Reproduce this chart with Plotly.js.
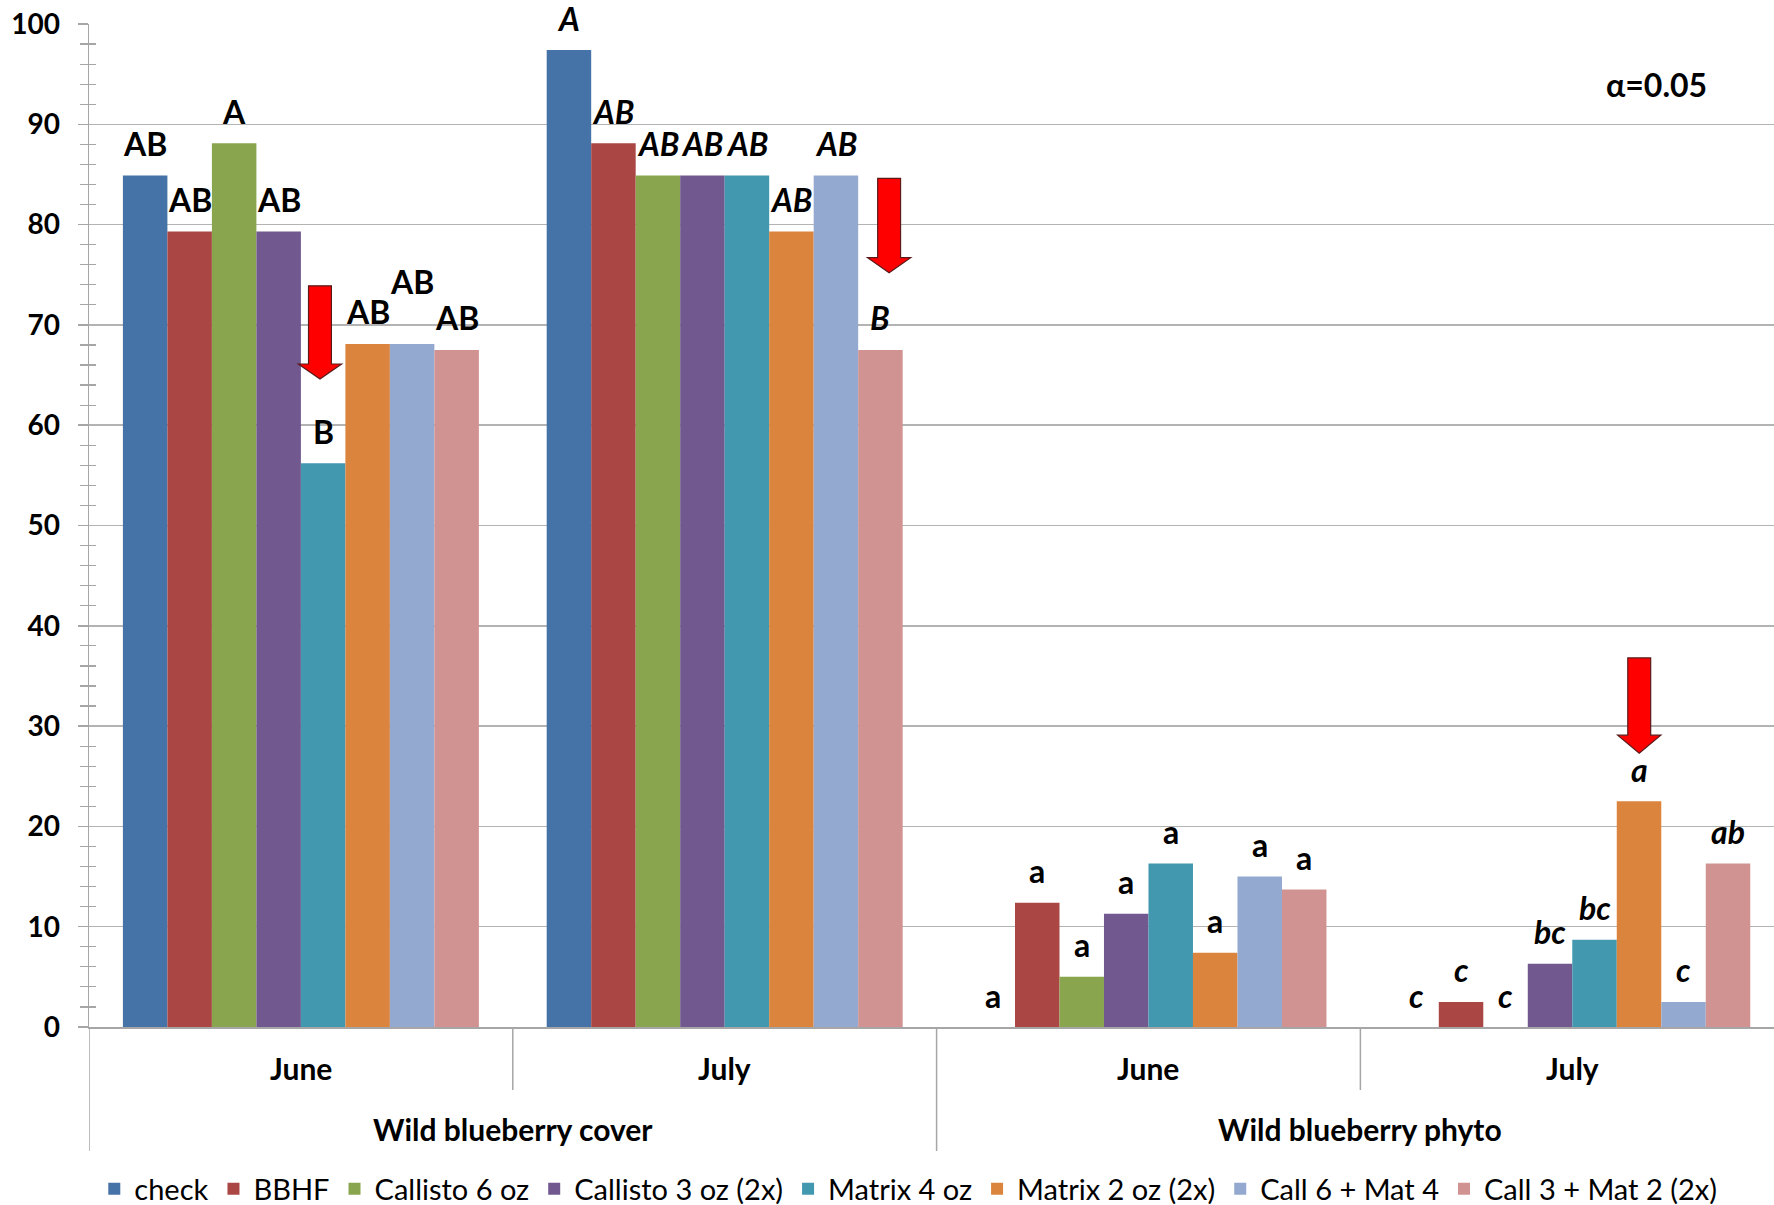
<!DOCTYPE html>
<html><head><meta charset="utf-8">
<script src="https://cdn.plot.ly/plotly-3.0.1.min.js"></script>
<style>html,body{margin:0;padding:0;background:#fff}#chart{width:1774px;height:1205px}</style>
</head><body><div id="chart"></div>
<script>
// ---- data ----
const months = ['June', 'July', 'June', 'July'];
const measures = ['Wild blueberry cover', 'Wild blueberry phyto'];
const treatments = ['check', 'BBHF', 'Callisto 6 oz', 'Callisto 3 oz (2x)', 'Matrix 4 oz', 'Matrix 2 oz (2x)', 'Call 6 + Mat 4', 'Call 3 + Mat 2 (2x)'];

const checkVals     = [84.9, 97.4, 0.0, 0.0];
const bbhfVals      = [79.3, 88.1, 12.4, 2.5];
const callisto6Vals = [88.1, 84.9, 5.0, 0.0];
const callisto3Vals = [79.3, 84.9, 11.3, 6.3];
const matrix4Vals   = [56.2, 84.9, 16.3, 8.7];
const matrix2Vals   = [68.1, 79.3, 7.4, 22.5];
const call6mat4Vals = [68.1, 84.9, 15.0, 2.5];
const call3mat2Vals = [67.5, 67.5, 13.7, 16.3];

const checkLetters     = ['AB', 'A', 'a', 'c'];
const bbhfLetters      = ['AB', 'AB', 'a', 'c'];
const callisto6Letters = ['A', 'AB', 'a', 'c'];
const callisto3Letters = ['AB', 'AB', 'a', 'bc'];
const matrix4Letters   = ['B', 'AB', 'a', 'bc'];
const matrix2Letters   = ['AB', 'AB', 'a', 'a'];
const call6mat4Letters = ['AB', 'AB', 'a', 'c'];
const call3mat2Letters = ['AB', 'B', 'a', 'ab'];

const alphaText = 'α=0.05';

// ---- style ----
const colors = ['#4572A7', '#AA4643', '#89A54E', '#71588F', '#4198AF', '#DB843D', '#93A9CF', '#D19392'];
const FONT = 'Lato, "Open Sans", sans-serif';
const GAP = 0.16;
const AXIS_GRAY = '#a6a6a6';

const seriesVals = [checkVals, bbhfVals, callisto6Vals, callisto3Vals, matrix4Vals, matrix2Vals, call6mat4Vals, call3mat2Vals];
const seriesLetters = [checkLetters, bbhfLetters, callisto6Letters, callisto3Letters, matrix4Letters, matrix2Letters, call6mat4Letters, call3mat2Letters];
const catPos = months.map((m, i) => i);

const traces = treatments.map((name, t) => ({
  type: 'bar', name: name, x: catPos, y: seriesVals[t],
  marker: {color: colors[t], line: {width: 0}}, hoverinfo: 'skip'
}));
traces.push({type: 'scatter', x: [null], y: [null], yaxis: 'y2', showlegend: false, hoverinfo: 'skip'});

const nS = treatments.length;
const bw = (1 - GAP) / nS;
const annotations = [];
// letter labels over bars
const liftPx = {'0-6': 30}; // staggered label (category-series)
seriesVals.forEach((vals, t) => {
  vals.forEach((v, c) => {
    const italic = months[c] === 'July';
    const txt = italic ? '<b><i>' + seriesLetters[t][c] + '</i></b>' : '<b>' + seriesLetters[t][c] + '</b>';
    annotations.push({
      x: c - (1 - GAP) / 2 + (t + 0.5) * bw, y: v, xref: 'x', yref: 'y',
      text: txt, showarrow: false, xanchor: 'center', yanchor: 'middle',
      yshift: 32 + (liftPx[c + '-' + t] || 0),
      font: {family: FONT, size: 32, color: '#000'}
    });
  });
});
// month labels
months.forEach((m, i) => annotations.push({
  x: i, y: 0, xref: 'x', yref: 'paper', yanchor: 'middle', yshift: -41,
  text: '<b>' + m + '</b>', showarrow: false, font: {family: FONT, size: 30, color: '#000'}
}));
// measure labels
measures.forEach((m, j) => annotations.push({
  x: 2 * j + 0.5, y: 0, xref: 'x', yref: 'paper', yanchor: 'middle', yshift: -102,
  text: '<b>' + m + '</b>', showarrow: false, font: {family: FONT, size: 30, color: '#000'}
}));
annotations.push({
  x: 0.93, y: 0.94, xref: 'paper', yref: 'paper', xanchor: 'center', yanchor: 'middle',
  text: '<b>' + alphaText + '</b>', showarrow: false, font: {family: FONT, size: 32, color: '#000'}
});

// dividers under the category axis
const shapes = [];
[-0.5, 1.5, 3.5].forEach(x => shapes.push({type: 'line', xref: 'x', yref: 'paper', x0: x, x1: x, y0: 0, y1: -0.1236, line: {color: AXIS_GRAY, width: 1.5}}));
[0.5, 2.5].forEach(x => shapes.push({type: 'line', xref: 'x', yref: 'paper', x0: x, x1: x, y0: 0, y1: -0.0628, line: {color: AXIS_GRAY, width: 1.5}}));

// red block arrows (decoration): [centerX, topY, headY, tipY]
const arrows = [[0.045, 73.9, 66.1, 64.6], [1.388, 84.6, 76.7, 75.2], [3.158, 36.8, 29.1, 27.3]];
const sw = 0.027, hw = 0.051;
arrows.forEach(([cx, top, hy, tip]) => {
  const p = `M${cx - sw},${top} L${cx + sw},${top} L${cx + sw},${hy} L${cx + hw},${hy} L${cx},${tip} L${cx - hw},${hy} L${cx - sw},${hy} Z`;
  shapes.push({type: 'path', xref: 'x', yref: 'y', path: p, fillcolor: '#FF0000', line: {color: '#5a1a1a', width: 1.2}, layer: 'above'});
});

const layout = {
  width: 1774, height: 1205,
  margin: {l: 89, r: 0, t: 24, b: 178, pad: 0},
  paper_bgcolor: '#ffffff', plot_bgcolor: '#ffffff',
  barmode: 'group', bargap: GAP, bargroupgap: 0,
  font: {family: FONT, color: '#000'},
  showlegend: true,
  legend: {orientation: 'h', xref: 'container', yref: 'container', x: 0.512, xanchor: 'center', y: 0.0133, yanchor: 'middle',
           font: {family: FONT, size: 29, color: '#000'}, itemwidth: 30, traceorder: 'normal', bgcolor: 'rgba(0,0,0,0)'},
  xaxis: {range: [-0.5, 3.476], showgrid: false, zeroline: false, showticklabels: false, ticks: '',
          showline: true, linecolor: AXIS_GRAY, linewidth: 1.5, fixedrange: true},
  yaxis: {range: [0, 100], dtick: 10, tick0: 0, showgrid: true, gridcolor: '#b3b3b3', gridwidth: 1.5, zeroline: false,
          showline: true, linecolor: AXIS_GRAY, linewidth: 1.5,
          ticks: 'outside', ticklen: 10, tickcolor: AXIS_GRAY, tickwidth: 1.5,
          minor: {dtick: 2, ticks: 'outside', ticklen: 8, tickcolor: AXIS_GRAY, tickwidth: 1.2, showgrid: false},
          tickfont: {family: FONT, size: 28, color: '#000', weight: 700}, ticklabelstandoff: 12, fixedrange: true},
  yaxis2: {overlaying: 'y', side: 'left', range: [0, 100], dtick: 10, tick0: 0, showgrid: false, zeroline: false,
           showline: false, showticklabels: false, ticks: '',
           minor: {dtick: 2, ticks: 'inside', ticklen: 7, tickcolor: AXIS_GRAY, tickwidth: 1.2, showgrid: false}, fixedrange: true},
  annotations: annotations,
  shapes: shapes
};
Plotly.newPlot('chart', traces, layout, {displayModeBar: false, staticPlot: true});
</script>
</body></html>
